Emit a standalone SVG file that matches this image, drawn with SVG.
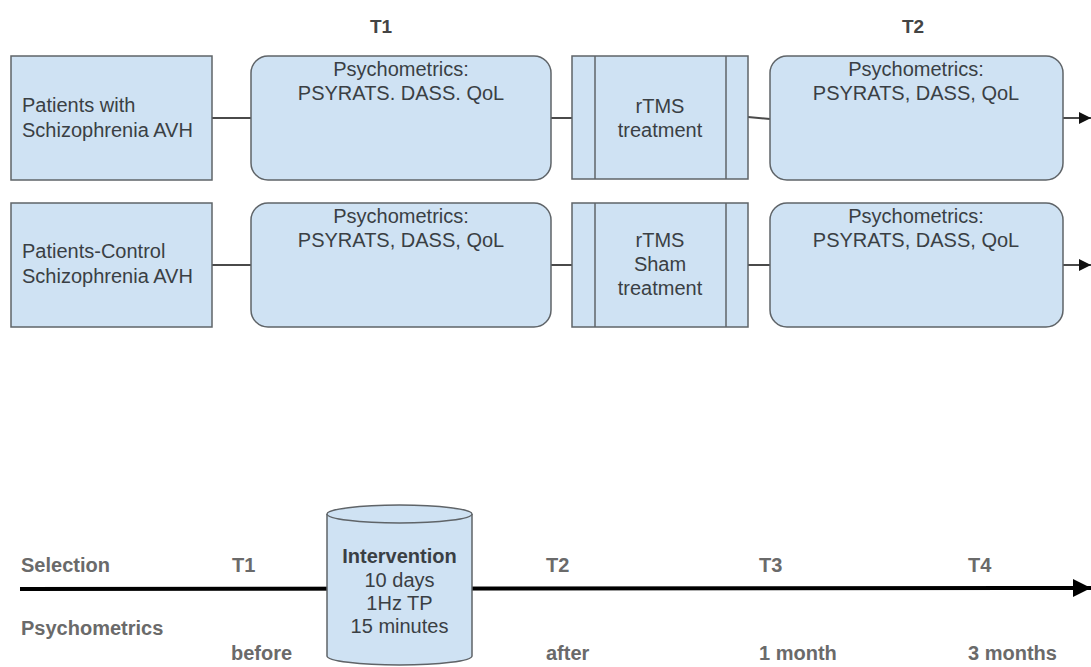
<svg xmlns="http://www.w3.org/2000/svg" width="1091" height="667" viewBox="0 0 1091 667">
  <style>
    .box { fill: #cfe2f3; stroke: #5f6468; stroke-width: 1.5; }
    .txt { font-family: "Liberation Sans", Arial, sans-serif; font-size: 20px; fill: #3a3f44; }
    .mid { text-anchor: middle; }
    .hdr { font-family: "Liberation Sans", Arial, sans-serif; font-size: 19px; font-weight: bold; fill: #444; text-anchor: middle; }
    .lbl { font-family: "Liberation Sans", Arial, sans-serif; font-size: 20px; font-weight: bold; fill: #6a6a6a; }
    .conn { stroke: #4a4a4a; stroke-width: 2; fill: none; }
  </style>
  <defs>
    <marker id="arr" viewBox="0 0 10 10" refX="10" refY="5" markerWidth="6" markerHeight="6" markerUnits="strokeWidth" orient="auto">
      <path d="M0,0 L10,5 L0,10 z" fill="#111"/>
    </marker>
    <marker id="arrBig" viewBox="0 0 10 10" refX="10" refY="5" markerWidth="4.5" markerHeight="4.5" markerUnits="strokeWidth" orient="auto">
      <path d="M0,0 L10,5 L0,10 z" fill="#000"/>
    </marker>
  </defs>
  <rect width="1091" height="667" fill="#ffffff"/>

  <!-- column headings -->
  <text class="hdr" x="381" y="33">T1</text>
  <text class="hdr" x="913" y="33">T2</text>

  <!-- connectors -->
  <g id="connectors">
    <line class="conn" x1="212" y1="118" x2="251" y2="118"/>
    <line class="conn" x1="551" y1="118" x2="572" y2="118"/>
    <line class="conn" x1="748" y1="117" x2="770" y2="119"/>
    <line class="conn" x1="1063" y1="118" x2="1091" y2="118" marker-end="url(#arr)"/>
    <line class="conn" x1="212" y1="265" x2="251" y2="265"/>
    <line class="conn" x1="551" y1="265" x2="572" y2="265"/>
    <line class="conn" x1="748" y1="265" x2="770" y2="265"/>
    <line class="conn" x1="1063" y1="265" x2="1091" y2="265" marker-end="url(#arr)"/>
    <!-- timeline -->
    <line x1="20" y1="589" x2="1091" y2="588" stroke="#000" stroke-width="4" marker-end="url(#arrBig)"/>
  </g>

  <!-- row 1 -->
  <g id="group-avh">
    <rect class="box" x="11" y="56" width="201" height="124"/>
    <text class="txt" x="22" y="112">Patients with</text>
    <text class="txt" x="22" y="137">Schizophrenia AVH</text>
  </g>
  <g id="t1-avh">
    <rect class="box" x="251" y="56" width="300" height="124" rx="17"/>
    <text class="txt mid" x="401" y="76">Psychometrics:</text>
    <text class="txt mid" x="401" y="100">PSYRATS. DASS. QoL</text>
  </g>
  <g id="rtms">
    <rect class="box" x="572" y="56" width="176" height="123"/>
    <line class="box" x1="595" y1="56" x2="595" y2="179"/>
    <line class="box" x1="726" y1="56" x2="726" y2="179"/>
    <text class="txt mid" x="660" y="113">rTMS</text>
    <text class="txt mid" x="660" y="137">treatment</text>
  </g>
  <g id="t2-avh">
    <rect class="box" x="770" y="56" width="293" height="124" rx="17"/>
    <text class="txt mid" x="916" y="76">Psychometrics:</text>
    <text class="txt mid" x="916" y="100">PSYRATS, DASS, QoL</text>
  </g>

  <!-- row 2 -->
  <g id="group-control">
    <rect class="box" x="11" y="203" width="201" height="124"/>
    <text class="txt" x="22" y="258">Patients-Control</text>
    <text class="txt" x="22" y="283">Schizophrenia AVH</text>
  </g>
  <g id="t1-control">
    <rect class="box" x="251" y="203" width="300" height="124" rx="17"/>
    <text class="txt mid" x="401" y="223">Psychometrics:</text>
    <text class="txt mid" x="401" y="247">PSYRATS, DASS, QoL</text>
  </g>
  <g id="rtms-sham">
    <rect class="box" x="572" y="203" width="176" height="124"/>
    <line class="box" x1="595" y1="203" x2="595" y2="327"/>
    <line class="box" x1="726" y1="203" x2="726" y2="327"/>
    <text class="txt mid" x="660" y="247">rTMS</text>
    <text class="txt mid" x="660" y="271">Sham</text>
    <text class="txt mid" x="660" y="295">treatment</text>
  </g>
  <g id="t2-control">
    <rect class="box" x="770" y="203" width="293" height="124" rx="17"/>
    <text class="txt mid" x="916" y="223">Psychometrics:</text>
    <text class="txt mid" x="916" y="247">PSYRATS, DASS, QoL</text>
  </g>

  <!-- timeline labels -->
  <g id="timeline-labels">
    <text class="lbl" x="21" y="572">Selection</text>
    <text class="lbl" x="21" y="635">Psychometrics</text>
    <text class="lbl" x="232" y="572">T1</text>
    <text class="lbl" x="231" y="660">before</text>
    <text class="lbl" x="546" y="572">T2</text>
    <text class="lbl" x="546" y="660">after</text>
    <text class="lbl" x="759" y="572">T3</text>
    <text class="lbl" x="759" y="660">1 month</text>
    <text class="lbl" x="968" y="572">T4</text>
    <text class="lbl" x="968" y="660">3 months</text>
  </g>

  <!-- intervention cylinder -->
  <g id="intervention">
    <path class="box" d="M327,514 L327,656 A72.5,9 0 0 0 472,656 L472,514"/>
    <ellipse class="box" cx="399.5" cy="514" rx="72.5" ry="9"/>
    <text class="txt mid" x="399.5" y="563" font-weight="bold">Intervention</text>
    <text class="txt mid" x="399.5" y="587">10 days</text>
    <text class="txt mid" x="399.5" y="610">1Hz TP</text>
    <text class="txt mid" x="399.5" y="633">15 minutes</text>
  </g>
</svg>
